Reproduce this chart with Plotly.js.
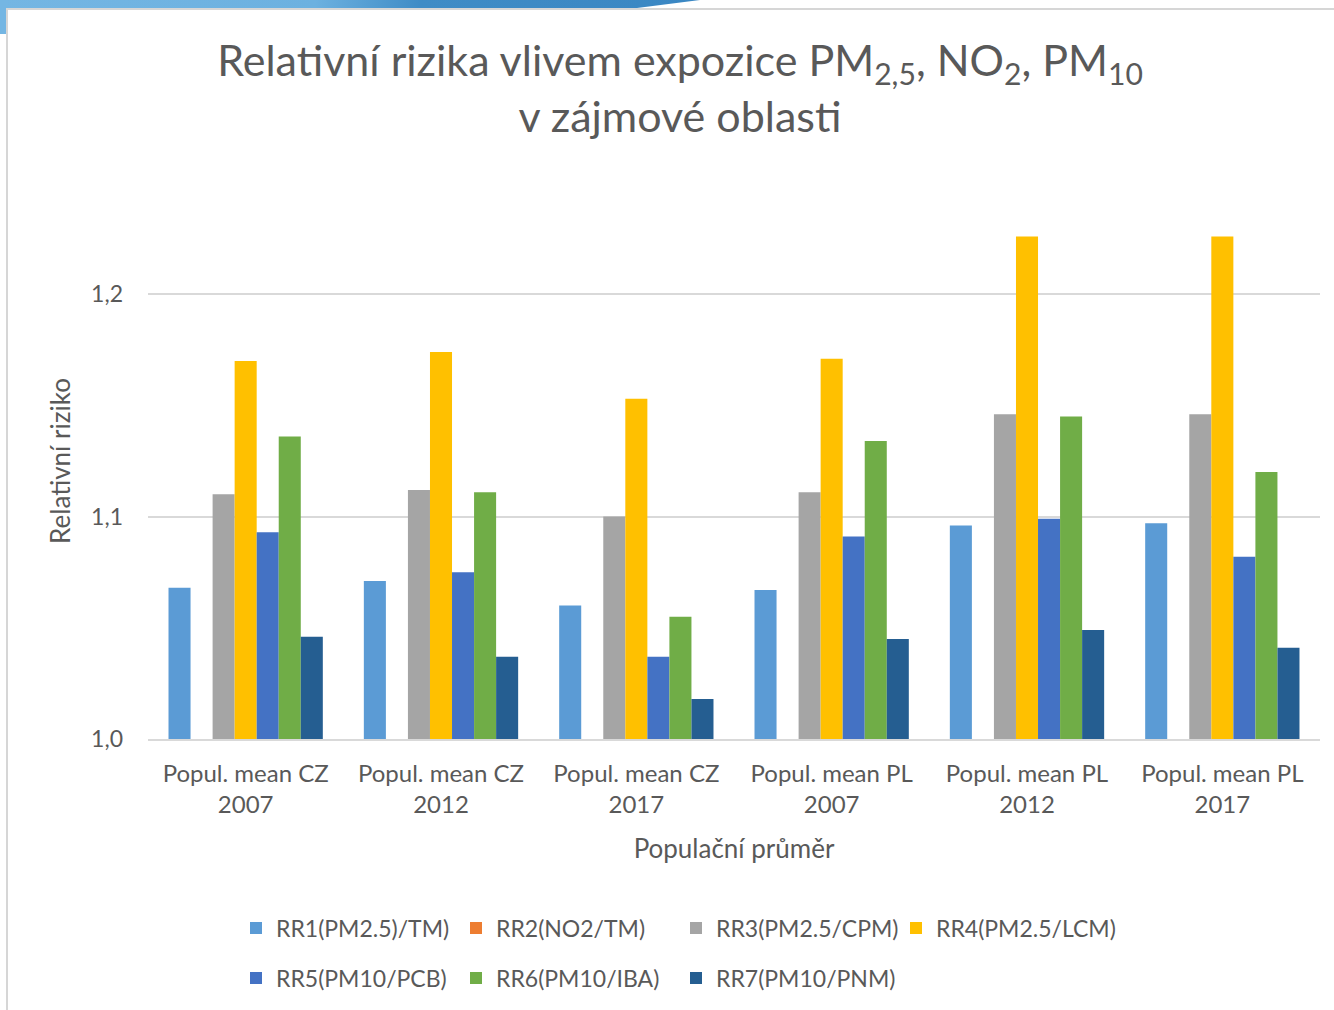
<!DOCTYPE html>
<html>
<head>
<meta charset="utf-8">
<script src="https://cdn.plot.ly/plotly-3.0.1.min.js"></script>
<style>
  html, body { margin: 0; padding: 0; background: #ffffff; }
  #wrap { position: relative; width: 1334px; height: 1010px; overflow: hidden; }
  #chart { position: absolute; left: 0; top: 0; width: 1334px; height: 1010px; }
  .deco { position: absolute; pointer-events: none; z-index: 5; }
</style>
</head>
<body>
<div id="wrap">
  <div id="chart"></div>
  <div class="deco" style="left:0;top:0;width:700px;height:8px;background:linear-gradient(90deg,#74b6e3 0%,#6cb1e0 45%,#3f8cc6 60%,#3a87c3 100%);clip-path:polygon(0 0,100% 0,91% 100%,0 100%);"></div>
  <div class="deco" style="left:0;top:0;width:6px;height:34px;background:#74b6e3;"></div>
  <div class="deco" style="left:6px;top:8px;width:1328px;height:2px;background:#d6d6d6;"></div>
  <div class="deco" style="left:6px;top:8px;width:2px;height:1002px;background:#d6d6d6;"></div>
</div>
<script>
// ---- data ----
var categories = [
  "Popul. mean CZ<br>2007",
  "Popul. mean CZ<br>2012",
  "Popul. mean CZ<br>2017",
  "Popul. mean PL<br>2007",
  "Popul. mean PL<br>2012",
  "Popul. mean PL<br>2017"
];
var seriesNames = [
  "RR1(PM2.5)/TM)",
  "RR2(NO2/TM)",
  "RR3(PM2.5/CPM)",
  "RR4(PM2.5/LCM)",
  "RR5(PM10/PCB)",
  "RR6(PM10/IBA)",
  "RR7(PM10/PNM)"
];
var RR1 = [1.068, 1.071, 1.060, 1.067, 1.096, 1.097];
var RR2 = [null, null, null, null, null, null];
var RR3 = [1.110, 1.112, 1.100, 1.111, 1.146, 1.146];
var RR4 = [1.170, 1.174, 1.153, 1.171, 1.226, 1.226];
var RR5 = [1.093, 1.075, 1.037, 1.091, 1.099, 1.082];
var RR6 = [1.136, 1.111, 1.055, 1.134, 1.145, 1.120];
var RR7 = [1.046, 1.037, 1.018, 1.045, 1.049, 1.041];
var yTickValues = [1.0, 1.1, 1.2];

var seriesValues = [RR1, RR2, RR3, RR4, RR5, RR6, RR7];
var colors = ["#5b9bd5", "#ed7d31", "#a5a5a5", "#ffc000", "#4472c4", "#70ad47", "#255e91"];
var legendOf = ["legend", "legend", "legend", "legend", "legend2", "legend2", "legend2"];

var FONT = "Lato, 'Open Sans', sans-serif";
var TXT = "#595959";

var traces = seriesValues.map(function (vals, i) {
  return {
    type: "bar",
    name: seriesNames[i],
    x: categories,
    y: vals,
    marker: { color: colors[i], line: { width: 0 } },
    legend: legendOf[i],
    hoverinfo: "x+y+name"
  };
});

function legendCfg(rowY) {
  return {
    orientation: "h",
    xref: "container", yref: "container",
    x: 236 / 1334, xanchor: "left",
    y: 1 - rowY / 1010, yanchor: "middle",
    entrywidth: 175, entrywidthmode: "pixels",
    itemwidth: 30,
    font: { family: FONT, size: 23, color: TXT },
    bgcolor: "rgba(0,0,0,0)", borderwidth: 0,
    traceorder: "normal"
  };
}

var layout = {
  width: 1334,
  height: 1010,
  paper_bgcolor: "#ffffff",
  plot_bgcolor: "#ffffff",
  separators: ",.",
  font: { family: FONT, color: TXT, size: 22 },
  margin: { l: 148, r: 14, t: 183, b: 271, pad: 0 },
  barmode: "group",
  bargap: 0.21,
  bargroupgap: 0,
  title: {
    text: "Relativní rizika vlivem expozice PM<sub>2,5</sub>, NO<sub>2</sub>, PM<sub>10</sub><br>v zájmové oblasti",
    font: { family: FONT, size: 43, color: TXT },
    xref: "container", yref: "container",
    x: 680 / 1334, xanchor: "center",
    y: 1 - 76 / 1010, yanchor: "top"
  },
  xaxis: {
    type: "category",
    tickfont: { family: FONT, size: 24, color: TXT },
    showgrid: false,
    showline: true, linecolor: "#d9d9d9", linewidth: 2,
    ticks: "", ticklabelstandoff: 12,
    title: { text: "Populační průměr", font: { family: FONT, size: 26, color: TXT }, standoff: 23 }
  },
  yaxis: {
    range: [1.0, 1.25],
    tickvals: yTickValues,
    tickformat: ".1f",
    tickfont: { family: FONT, size: 23, color: TXT },
    showgrid: true, gridcolor: "#d9d9d9", gridwidth: 2,
    zeroline: false, showline: false,
    ticks: "", ticklabelstandoff: 24,
    title: { text: "Relativní riziko", font: { family: FONT, size: 26, color: TXT }, standoff: 12 }
  },
  legend: legendCfg(928),
  legend2: legendCfg(978),
  showlegend: true
};

Plotly.newPlot("chart", traces, layout, { displayModeBar: false });
</script>
</body>
</html>
